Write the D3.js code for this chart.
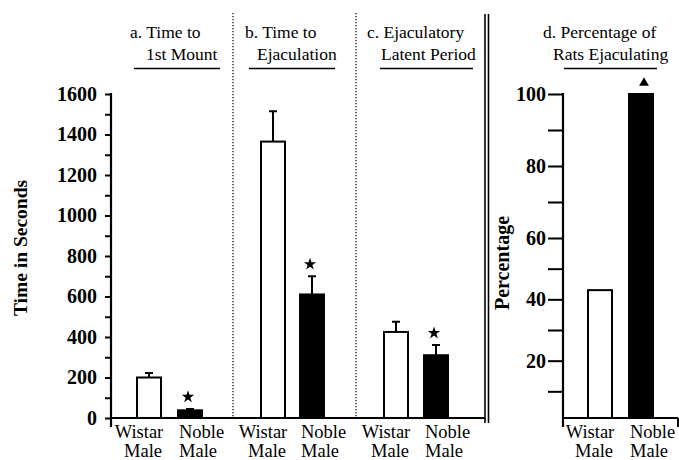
<!DOCTYPE html>
<html>
<head>
<meta charset="utf-8">
<script src="https://cdn.jsdelivr.net/npm/d3@7/dist/d3.min.js"></script>
<style>
    body { margin: 0; background: #fff; }
    svg text { font-family: "Liberation Serif", "Times New Roman", serif; fill: #000; }
    .bold { font-weight: bold; }
</style>
</head>
<body>
<div id="chart"></div>
<script>
    // data
    var panelTitles = [["a. Time to", "1st Mount"], ["b. Time to", "Ejaculation"],
                       ["c. Ejaculatory", "Latent Period"], ["d. Percentage of", "Rats Ejaculating"]];
    var groups = ["Wistar", "Noble"];
    var wistarTime = [200, 1365, 425];
    var wistarErr = [22, 150, 50];
    var nobleTime = [38, 610, 310];
    var nobleErr = [7, 90, 50];
    var pctEjaculating = [43, 100];
    var timeTicks = [0, 200, 400, 600, 800, 1000, 1200, 1400, 1600];
    var timeMinor = [100, 300, 500, 700, 900, 1100, 1300, 1500];
    var pctTicks = [20, 40, 60, 80, 100];
    var pctMinor = [10, 30, 50, 70, 90];

    var width = 679, height = 460;
    var base = 418;
    var serif = "'Liberation Serif', 'Times New Roman', serif";

    var svg = d3.select("#chart").append("svg")
        .attr("width", width)
        .attr("height", height)
        .attr("font-family", serif);

    // scales
    var yTime = d3.scaleLinear().domain([0, 1600]).range([base, 94]);
    var yPct = d3.scaleLinear().domain([0, 60, 100]).range([422, 238, 94]);

    // layout of each panel (bar centres, title placement)
    var panels = [
        { bars: [149, 190], t1: 130, t2: 146, u: [134, 220] },
        { bars: [273, 312], t1: 245, t2: 257, u: [249, 335] },
        { bars: [396, 436], t1: 367, t2: 381, u: [380, 473] },
        { bars: [600, 641], t1: 543, t2: 553, u: [564, 657] }
    ];
    panels.forEach(function (p) {
        p.x = d3.scalePoint().domain(groups).range(p.bars);
    });

    // titles
    panels.forEach(function (p, i) {
        svg.append("text").attr("x", p.t1).attr("y", 37.5)
            .style("font-size", "17.5px").text(panelTitles[i][0]);
        svg.append("text").attr("x", p.t2).attr("y", 59.5)
            .style("font-size", "17.5px").text(panelTitles[i][1]);
        svg.append("line").attr("x1", p.u[0]).attr("x2", p.u[1])
            .attr("y1", 68.5).attr("y2", 68.5)
            .attr("stroke", "#000").attr("stroke-width", 1.6);
    });

    // separators
    [233, 356].forEach(function (x) {
        svg.append("line").attr("x1", x).attr("x2", x).attr("y1", 13).attr("y2", base)
            .attr("stroke", "#000").attr("stroke-width", 1.2)
            .attr("stroke-dasharray", "1.2,1.8");
    });
    [485, 488.5].forEach(function (x) {
        svg.append("line").attr("x1", x).attr("x2", x).attr("y1", 14).attr("y2", 423)
            .attr("stroke", "#000").attr("stroke-width", 1.6);
    });

    // left axis
    var axL = svg.append("g").attr("transform", "translate(111,0)")
        .call(d3.axisLeft(yTime).tickValues(timeTicks).tickFormat(d3.format("d"))
            .tickSize(6).tickPadding(8).tickSizeOuter(0));
    axL.select(".domain").remove();
    axL.selectAll("line").attr("stroke-width", 2);
    axL.selectAll("text").attr("class", "bold").style("font-size", "20px")
        .style("font-family", serif);
    var axLm = svg.append("g").attr("transform", "translate(111,0)")
        .call(d3.axisLeft(yTime).tickValues(timeMinor).tickSize(6).tickFormat(""));
    axLm.select(".domain").remove();
    axLm.selectAll("line").attr("stroke-width", 2);
    svg.append("line").attr("x1", 111).attr("x2", 111)
        .attr("y1", yTime(1600) - 1).attr("y2", base + 9)
        .attr("stroke", "#000").attr("stroke-width", 2.2);
    svg.append("line").attr("x1", 111).attr("x2", 485)
        .attr("y1", base).attr("y2", base)
        .attr("stroke", "#000").attr("stroke-width", 2);

    svg.append("text")
        .attr("class", "bold")
        .attr("transform", "translate(27,248) rotate(-90)")
        .attr("text-anchor", "middle")
        .style("font-size", "19.5px")
        .text("Time in Seconds");

    // right axis
    var axR = svg.append("g").attr("transform", "translate(563,0)")
        .call(d3.axisLeft(yPct).tickValues(pctTicks).tickSize(15).tickPadding(2).tickSizeOuter(0));
    axR.select(".domain").remove();
    axR.selectAll("line").attr("stroke-width", 2);
    axR.selectAll("text").attr("class", "bold").style("font-size", "20px")
        .style("font-family", serif);
    var axRm = svg.append("g").attr("transform", "translate(563,0)")
        .call(d3.axisLeft(yPct).tickValues(pctMinor).tickSize(15).tickFormat(""));
    axRm.select(".domain").remove();
    axRm.selectAll("line").attr("stroke-width", 2);
    svg.append("line").attr("x1", 563).attr("x2", 563)
        .attr("y1", yPct(100) - 1).attr("y2", base + 9)
        .attr("stroke", "#000").attr("stroke-width", 2.2);
    svg.append("line").attr("x1", 563).attr("x2", 678)
        .attr("y1", base).attr("y2", base)
        .attr("stroke", "#000").attr("stroke-width", 2);
    svg.append("line").attr("x1", 678).attr("x2", 678)
        .attr("y1", base).attr("y2", base + 9)
        .attr("stroke", "#000").attr("stroke-width", 2);

    svg.append("text")
        .attr("class", "bold")
        .attr("transform", "translate(509,263) rotate(-90)")
        .attr("text-anchor", "middle")
        .style("font-size", "20px")
        .text("Percentage");

    // bars for the time panels
    var barW = 24;
    var timeData = [];
    for (var i = 0; i < 3; i++) {
        timeData.push({ panel: i, group: "Wistar", value: wistarTime[i], err: wistarErr[i] });
        timeData.push({ panel: i, group: "Noble", value: nobleTime[i], err: nobleErr[i] });
    }
    function cx(d) { return panels[d.panel].x(d.group); }

    svg.selectAll(".errbar")
        .data(timeData)
        .enter().append("path")
        .attr("class", "errbar")
        .attr("d", function (d) {
            var x = cx(d), y0 = yTime(d.value), y1 = yTime(d.value + d.err);
            return "M" + x + "," + y0 + "V" + y1 + "M" + (x - 4) + "," + y1 + "H" + (x + 4);
        })
        .attr("stroke", "#000").attr("stroke-width", 2).attr("fill", "none");

    svg.selectAll(".bar")
        .data(timeData)
        .enter().append("rect")
        .attr("class", "bar")
        .attr("x", function (d) { return cx(d) - barW / 2; })
        .attr("width", barW)
        .attr("y", function (d) { return yTime(d.value); })
        .attr("height", function (d) { return base - yTime(d.value); })
        .attr("fill", function (d) { return d.group == "Wistar" ? "#fff" : "#000"; })
        .attr("stroke", "#000").attr("stroke-width", 2);

    // significance stars
    svg.selectAll(".star")
        .data(timeData.filter(function (d) { return d.group == "Noble"; }))
        .enter().append("path")
        .attr("class", "star")
        .attr("d", d3.symbol().type(d3.symbolStar).size(48))
        .attr("transform", function (d) {
            return "translate(" + (cx(d) - 2) + "," + (yTime(d.value + d.err) - 12) + ")";
        })
        .attr("fill", "#000");

    // percentage panel
    var pctData = groups.map(function (g, j) { return { panel: 3, group: g, value: pctEjaculating[j] }; });
    svg.selectAll(".pbar")
        .data(pctData)
        .enter().append("rect")
        .attr("class", "pbar")
        .attr("x", function (d) { return cx(d) - barW / 2; })
        .attr("width", barW)
        .attr("y", function (d) { return yPct(d.value); })
        .attr("height", function (d) { return base - yPct(d.value); })
        .attr("fill", function (d) { return d.group == "Wistar" ? "#fff" : "#000"; })
        .attr("stroke", "#000").attr("stroke-width", 2);

    svg.append("path")
        .attr("d", d3.symbol().type(d3.symbolTriangle).size(42))
        .attr("transform", "translate(" + (panels[3].x("Noble") + 3) + "," + (yPct(100) - 11) + ")")
        .attr("fill", "#000");

    // group labels
    var allBars = timeData.concat(pctData);
    allBars.forEach(function (d) {
        var x = cx(d);
        if (d.group == "Wistar") {
            svg.append("text").attr("x", x - 10).attr("y", 438).attr("text-anchor", "middle")
                .style("font-size", "18.5px").text("Wistar");
            svg.append("text").attr("x", x - 6).attr("y", 457).attr("text-anchor", "middle")
                .style("font-size", "18.5px").text("Male");
        } else {
            svg.append("text").attr("x", x - 11).attr("y", 438)
                .style("font-size", "18.5px").text("Noble");
            svg.append("text").attr("x", x - 11).attr("y", 457)
                .style("font-size", "18.5px").text("Male");
        }
    });
</script>
</body>
</html>
